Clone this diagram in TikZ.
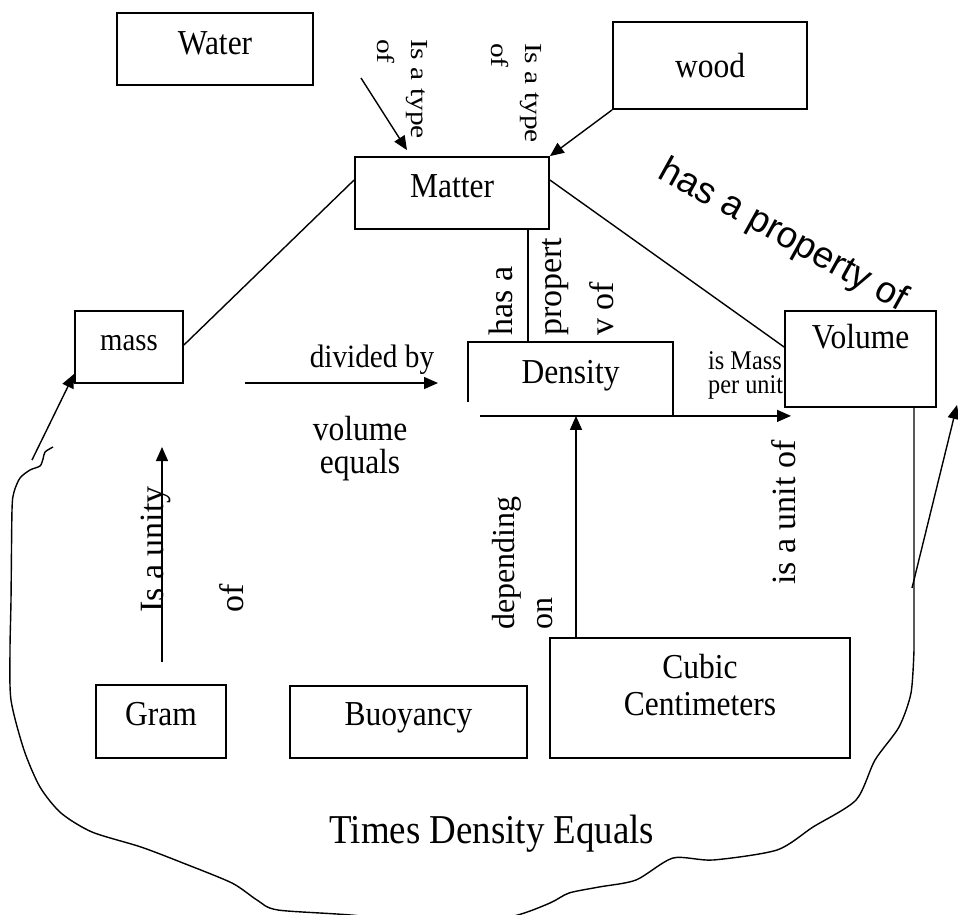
\documentclass[tikz,border=0pt]{standalone}
\usepackage{fontspec}
\setmainfont[FakeStretch=0.9]{Liberation Serif}
\newfontfamily\rotfont{Liberation Serif}
\newfontfamily\widefont[FakeStretch=1.2]{Liberation Serif}
\newfontfamily\sansfont{Liberation Sans}
\usetikzlibrary{arrows.meta,calc}
\begin{document}
\begin{tikzpicture}[x=1pt,y=-1pt,
  box/.style={draw, line width=1.8pt, inner sep=0pt, align=center, font=\fontsize{35}{37}\selectfont},
  conn/.style={line width=1.4pt},
  arr/.style={line width=1.4pt, -{Triangle[length=14pt,width=12pt]}},
  rlbl/.style={inner sep=0pt, font=\rotfont\fontsize{34}{38}\selectfont},
  hlbl/.style={inner sep=0pt, align=center},
]
\useasboundingbox (0,0) rectangle (958,914);
\clip (0,0) rectangle (958,914);

% boxes
\node[box, minimum width=196pt, minimum height=72pt, text height=41pt, text depth=31pt] (water) at (215,49) {Water};
\node[box, minimum width=194pt, minimum height=87pt, text height=55pt, text depth=32pt] (wood) at (710,65.5) {wood};
\node[box, minimum width=194pt, minimum height=72pt, text height=40pt, text depth=32pt] (matter) at (452,193) {Matter};
\node[box, font=\fontsize{32}{34}\selectfont, minimum width=108pt, minimum height=72pt, text height=39pt, text depth=33pt] (mass) at (129,347) {mass};
\node[box, minimum width=151pt, minimum height=96pt, text height=37pt, text depth=59pt] (volume) at (860.5,359) {Volume};
\node[box, draw=none, minimum width=203pt, minimum height=72pt, text height=40pt, text depth=32pt] (density) at (570.5,379) {Density};
\node[box, minimum width=130pt, minimum height=73pt, text height=40pt, text depth=33pt] (gram) at (161,721.5) {Gram};
\node[box, minimum width=237pt, minimum height=72pt, text height=39pt, text depth=33pt] (buoy) at (408.5,722) {Buoyancy};
\node[box, minimum width=300pt, minimum height=120pt, text height=77pt, text depth=43pt] (cubic) at (700,698) {Cubic\\Centimeters};

% Density outline (partly open, as printed)
\draw[line width=1.8pt] ([yshift=14pt]density.south west) -- (density.north west) -- (density.north east) -- (density.south east) -- ++(-74,0);

% free ends
\coordinate (wa) at (361,78);
\coordinate (mdx) at (528,0);
\coordinate (cx) at (576,0);
\coordinate (vtip) at (791,0);
\coordinate (d1) at (245,383);
\coordinate (d2) at (438,383);
\coordinate (g1) at (162,662);
\coordinate (g2) at (162,447);
\coordinate (m1) at (32,460);
\coordinate (r1) at (912,588);
\coordinate (r2) at (957,405);
\coordinate (rx) at (914,0);

% connectors
\draw[arr] (wa) -- ([xshift=-45pt,yshift=6pt]matter.north);
\draw[arr] (wood.south west) -- (matter.north east);
\draw[conn] ([yshift=13pt]matter.west) -- ([yshift=2pt]mass.east);
\draw[conn] ([yshift=13pt]matter.east) -- ([yshift=12pt]volume.west);
\draw[conn] (matter.south -| mdx) -- (density.north -| mdx);
\draw[arr] ([xshift=12pt]density.south west) -- (density.south west -| vtip);
\draw[arr] (cubic.north -| cx) -- (density.south -| cx);
\draw[arr] (d1) -- (d2);
\draw[arr] (g1) -- (g2);
\draw[arr] (m1) -- ([yshift=10pt]mass.south west);
\draw[arr] (r1) -- (r2);

% big loop
\draw[conn] plot[smooth, tension=0.45] coordinates {(53,447) (45,452) (43,459) (40,466) (30,470) (20,478) (14,492) (12,510) (11,600) (10,650) (11,700) (24,750) (40,787) (61,813) (92,832) (141,847) (183,863) (232,883) (257,900) (278,910) (361,916) (440,930) (514,916) (550,903) (569,893) (599,887) (636,880) (673,858) (713,860) (777,850) (813,827) (856,800) (875,760) (899,727) (911,693) (914,650)} -- (volume.south -| rx);

% labels
\node[rlbl, font=\widefont\fontsize{24.5}{34}\selectfont, align=left, rotate=-90, anchor=north west] (t1) at (428,39) {Is a type\\of};
\node[rlbl, font=\widefont\fontsize{24.5}{34}\selectfont, align=left, rotate=-90, anchor=north west] (t2) at (542,43) {Is a type\\of};
\node[rlbl, rotate=90, anchor=base west] (hasa) at (512,336) {has a};
\node[rlbl, rotate=90, anchor=base west] (prop) at (561,336) {propert};
\node[rlbl, rotate=90, anchor=base west] (vof) at (613,336) {v of};
\node[rlbl, rotate=90, anchor=base west] (unity) at (163,613) {Is a unity};
\node[rlbl, rotate=90, anchor=base west] (uof) at (243,613) {of};
\node[rlbl, font=\rotfont\fontsize{32}{36}\selectfont, rotate=90, anchor=base west] (dep) at (514,630) {depending};
\node[rlbl, font=\rotfont\fontsize{32}{36}\selectfont, rotate=90, anchor=base west] (on) at (552,630) {on};
\node[rlbl, rotate=90, anchor=base west] (unitof) at (795,585) {is a unit of};
\node[hlbl, font=\fontsize{32.5}{36}\selectfont, anchor=base] (div) at (372,367) {divided by};
\node[hlbl, font=\fontsize{35}{33}\selectfont, anchor=north] (veq) at (360,416) {volume\\equals};
\node[hlbl, align=left, font=\fontsize{27}{24}\selectfont, anchor=north west] (ism) at (708,351) {is Mass\\per unit};
\node[inner sep=0pt, font=\sansfont\fontsize{37}{40}\selectfont, rotate=-29] (hpo) at (783,236) {has a property of};
\node[hlbl, font=\fontsize{41}{44}\selectfont, anchor=base] (tde) at (492,843) {Times Density Equals};
\end{tikzpicture}
\end{document}
